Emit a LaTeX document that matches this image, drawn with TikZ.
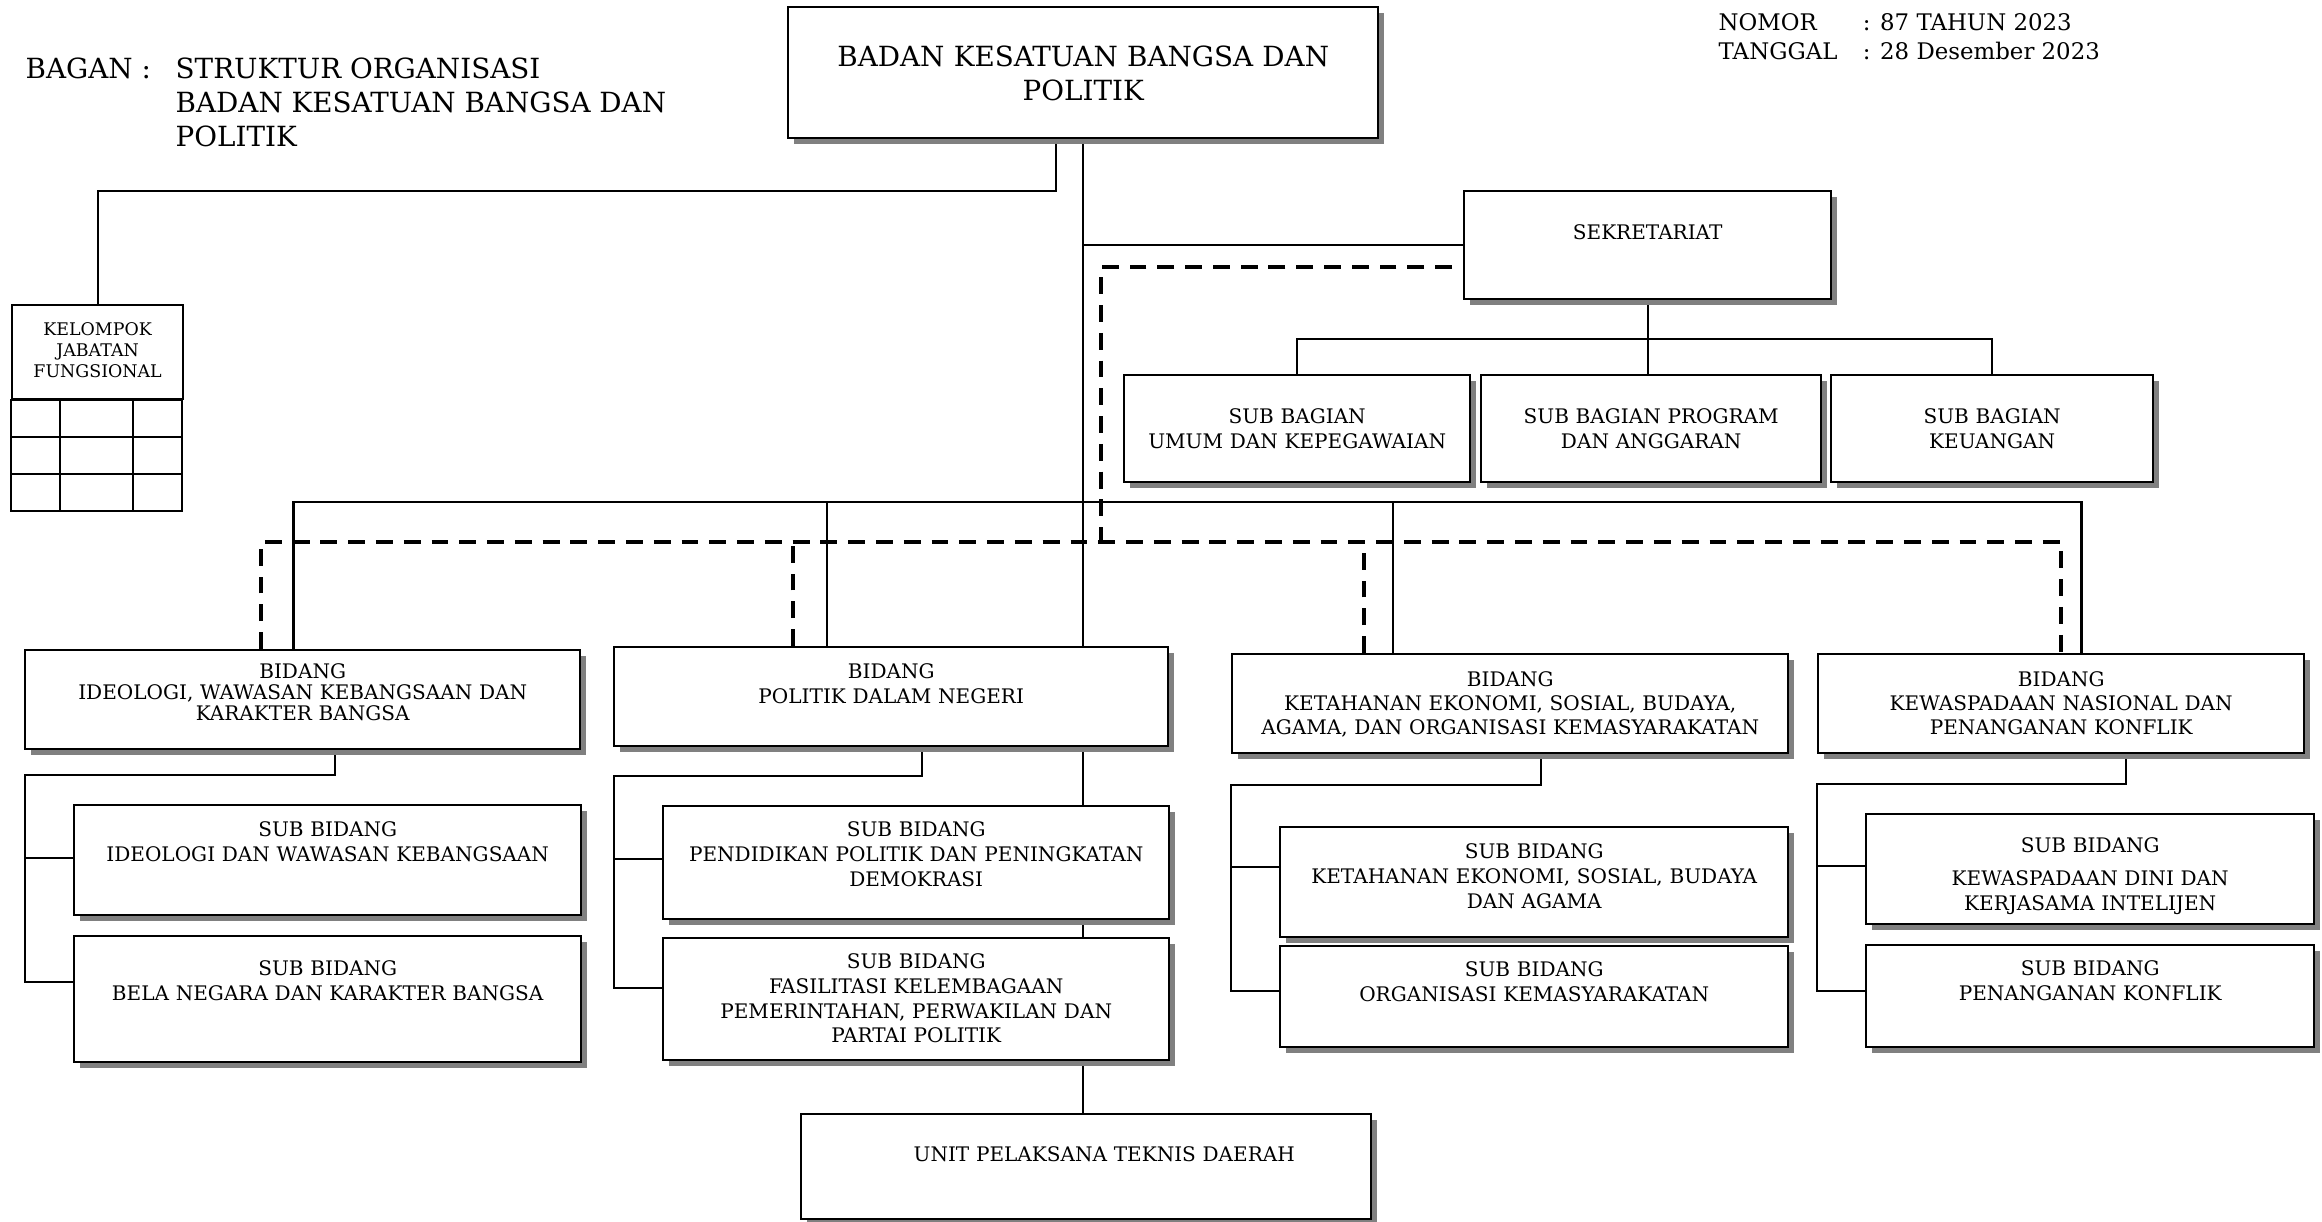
\documentclass[tikz,border=0pt]{standalone}
\usepackage{fontspec}
\setmainfont{DejaVu Serif}
\usetikzlibrary{calc,shadows,backgrounds}

\newcommand{\unitfont}{\fontsize{5.7}{7.1}\selectfont}
\newcommand{\titlefont}{\fontsize{7.9}{9.7}\selectfont}
\newcommand{\notefont}{\fontsize{6.5}{8.25}\selectfont}

\tikzset{
  box/.style n args={3}{draw, fill=white, line width=.6pt, inner sep=0pt,
    anchor=north west, align=center, font=\unitfont,
    text width=#1, text height=#2, text depth=#3,
    drop shadow={shadow xshift=.06cm, shadow yshift=-.06cm, fill=black!50, opacity=1}},
  plainbox/.style={draw, line width=.6pt, inner sep=0pt, anchor=north west,
    align=center, font=\fontsize{4.95}{6}\selectfont},
  link/.style={line width=.6pt},
  busline/.style={line width=.75pt},
  dashline/.style={line width=1.1pt, dash pattern=on 4.8pt off 3.1pt},
}

\begin{document}
\begin{tikzpicture}[x=0.01cm, y=-0.01cm]
  \useasboundingbox (0,0) rectangle (2322,1222);

  % judul dan keterangan
  \node [anchor=north west, inner sep=0pt, font=\titlefont] (bagan) at (25,57) {BAGAN :};
  \node [anchor=north west, inner sep=0pt, font=\titlefont, align=left] (judul) at (175,57)
    {STRUKTUR ORGANISASI\\BADAN KESATUAN BANGSA DAN\\POLITIK};
  \node [anchor=north west, inner sep=0pt, font=\notefont, align=left] (nomor) at (1718,13)
    {\makebox[1.44cm][l]{NOMOR}: 87 TAHUN 2023\\\makebox[1.44cm][l]{TANGGAL}: 28 Desember 2023};

  % kepala badan
  \node [box={5.90cm}{.59cm}{.72cm}, font=\titlefont] (kaban) at (787,6)
    {BADAN KESATUAN BANGSA DAN\\POLITIK};

  % jabatan fungsional
  \node [plainbox, text width=1.71cm, text height=.30cm, text depth=.64cm] (jafung) at (11,304)
    {KELOMPOK\\JABATAN\\FUNGSIONAL};
  \draw [line width=.6pt] (jafung.south west) rectangle ++(171,111);
  \foreach \d in {37,74}
    \draw [line width=.6pt] ($(jafung.south west)+(0,\d)$) -- ++(171,0);
  \foreach \d in {49,122}
    \draw [line width=.6pt] ($(jafung.south west)+(\d,0)$) -- ++(0,111);

  % sekretariat
  \node [box={3.67cm}{.48cm}{.60cm}] (sekre) at (1463,190) {SEKRETARIAT};
  \node [box={3.46cm}{.48cm}{.59cm}] (subumum) at (1123,374) {SUB BAGIAN\\UMUM DAN KEPEGAWAIAN};
  \node [box={3.40cm}{.48cm}{.59cm}] (subprog) at (1480,374) {SUB BAGIAN PROGRAM\\DAN ANGGARAN};
  \node [box={3.22cm}{.48cm}{.59cm}] (subkeu) at (1830,374) {SUB BAGIAN\\KEUANGAN};

  % bidang
  \node [box={5.55cm}{.28cm}{.71cm}, font=\fontsize{5.7}{6}\selectfont] (bidideo) at (24,649)
    {BIDANG\\IDEOLOGI, WAWASAN KEBANGSAAN DAN\\KARAKTER BANGSA};
  \node [box={5.54cm}{.31cm}{.68cm}] (bidpol) at (613,646) {BIDANG\\POLITIK DALAM NEGERI};
  \node [box={5.56cm}{.32cm}{.67cm}, font=\fontsize{5.7}{6.9}\selectfont] (bideko) at (1231,653)
    {BIDANG\\KETAHANAN EKONOMI, SOSIAL, BUDAYA,\\AGAMA, DAN ORGANISASI KEMASYARAKATAN};
  \node [box={4.86cm}{.32cm}{.67cm}, font=\fontsize{5.7}{6.9}\selectfont] (bidwas) at (1817,653)
    {BIDANG\\KEWASPADAAN NASIONAL DAN\\PENANGANAN KONFLIK};

  % sub bidang
  \node [box={5.07cm}{.31cm}{.79cm}] (sbideo) at (73,804) {SUB BIDANG\\IDEOLOGI DAN WAWASAN KEBANGSAAN};
  \node [box={5.07cm}{.39cm}{.87cm}] (sbbela) at (73,935) {SUB BIDANG\\BELA NEGARA DAN KARAKTER BANGSA};
  \node [box={5.06cm}{.30cm}{.83cm}] (sbdidik) at (662,805)
    {SUB BIDANG\\PENDIDIKAN POLITIK DAN PENINGKATAN\\DEMOKRASI};
  \node [box={5.06cm}{.30cm}{.92cm}] (sbfasil) at (662,937)
    {SUB BIDANG\\FASILITASI KELEMBAGAAN\\PEMERINTAHAN, PERWAKILAN DAN\\PARTAI POLITIK};
  \node [box={5.08cm}{.31cm}{.79cm}] (sbeko) at (1279,826)
    {SUB BIDANG\\KETAHANAN EKONOMI, SOSIAL, BUDAYA\\DAN AGAMA};
  \node [box={5.08cm}{.30cm}{.71cm}] (sbormas) at (1279,945) {SUB BIDANG\\ORGANISASI KEMASYARAKATAN};
  \node [box={4.48cm}{.38cm}{.72cm}] (sbdini) at (1865,813)
    {SUB BIDANG\\[2.3pt]KEWASPADAAN DINI DAN\\KERJASAMA INTELIJEN};
  \node [box={4.48cm}{.30cm}{.72cm}] (sbkonflik) at (1865,944) {SUB BIDANG\\PENANGANAN KONFLIK};

  % upt
  \node [box={5.70cm}{.47cm}{.58cm}] (uptd) at (800,1113) {\hspace*{.36cm}UNIT PELAKSANA TEKNIS DAERAH};

  \begin{scope}[on background layer]
    % garis komando
    \draw [link] (kaban.south) -- (kaban.south |- uptd.north);
    \draw [link] ($(kaban.south)+(-27,0)$) -- ++(0,52) -| (jafung.north);
    \draw [link] (kaban.south |- sekre.west) -- (sekre.west);
    \draw [link] (sekre.south) -- (sekre.south |- subprog.north);
    \draw [link] (subumum.north) |- ($(sekre.south)+(0,39)$) -| (subkeu.north);

    \coordinate (bus) at (1082,502);
    \draw [busline] ($(bidideo.north)+(-9,0)$) |- (bus) -| ($(bidwas.north)+(20,0)$);
    \draw [link] ($(bidpol.north)+(-64,0)$) |- (bus);
    \draw [link] ($(bideko.north)+(-117,0)$) |- (bus);

    \foreach \bi/\dx/\dn/\up/\lo/\du/\dl in
      {bidideo/32/25/sbideo/sbbela/-2/-17, bidpol/31/29/sbdidik/sbfasil/-4/-11,
       bideko/31/31/sbeko/sbormas/-15/-6, bidwas/65/30/sbdini/sbkonflik/-3/-5}{
      \draw [link] ($(\bi.south)+(\dx,0)$) -- ++(0,\dn) -| ($(\lo.west)+(-48,\dl)$) -- ($(\lo.west)+(0,\dl)$);
      \draw [link] ($(\up.west)+(-48,\du)$) -- ($(\up.west)+(0,\du)$);
    }

    % garis koordinasi
    \coordinate (dash) at (1101,542);
    \draw [dashline] ($(sekre.west)+(-11,22)$) -| (dash);
    \draw [dashline] ($(bidideo.north)+(-42,0)$) |- (dash) -| (bidwas.north);
    \draw [dashline] ($(bidpol.north)+(-98,0)$) -- ++(0,-104);
    \draw [dashline] ($(bideko.north)+(-146,0)$) -- ++(0,-111);
  \end{scope}
\end{tikzpicture}
\end{document}
